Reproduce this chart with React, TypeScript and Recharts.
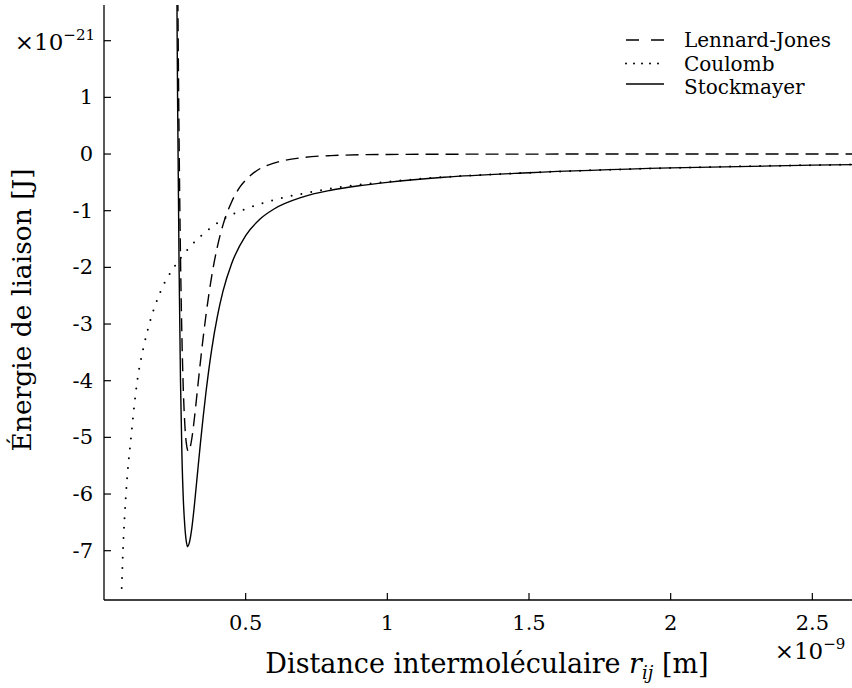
import React from 'react';
import { LineChart, Line, XAxis, YAxis, Legend } from 'recharts';

// distances in 1e-9 m, energies in 1e-21 J
const ljR = [0.255, 0.258, 0.26, 0.265, 0.27, 0.275, 0.28, 0.285, 0.29, 0.298, 0.31, 0.32, 0.33, 0.34, 0.35, 0.36, 0.38, 0.4, 0.42, 0.45, 0.48, 0.5, 0.55, 0.6, 0.7, 0.8, 1.0, 1.5, 2.0, 2.64];
const ljE = [7.34, 4.69, 3.2, 0.24, -1.82, -3.23, -4.17, -4.75, -5.08, -5.25, -5.02, -4.62, -4.15, -3.68, -3.24, -2.84, -2.16, -1.64, -1.25, -0.85, -0.58, -0.46, -0.26, -0.16, -0.063, -0.028, -0.007, -0.001, 0, 0];

const coulombR = [0.0625, 0.067, 0.0776, 0.0953, 0.1175, 0.14, 0.16, 0.2, 0.247, 0.289, 0.339, 0.427, 0.5, 0.6, 0.7, 0.8, 1.0, 1.25, 1.5, 2.0, 2.5, 2.64];
const coulombE = [-7.66, -7.0, -6.0, -5.0, -4.0, -3.4, -3.0, -2.42, -2.0, -1.72, -1.46, -1.134, -0.97, -0.81, -0.7, -0.61, -0.49, -0.39, -0.33, -0.245, -0.196, -0.186];

const stockR = [0.255, 0.258, 0.26, 0.265, 0.27, 0.275, 0.28, 0.285, 0.29, 0.295, 0.3, 0.31, 0.32, 0.33, 0.34, 0.35, 0.36, 0.38, 0.4, 0.42, 0.45, 0.5, 0.55, 0.6, 0.7, 0.8, 0.9, 1.0, 1.2, 1.5, 2.0, 2.5, 2.64];
const stockE = [5.42, 2.2, 0.8, -2.0, -4.0, -5.3, -6.1, -6.55, -6.82, -6.93, -6.88, -6.6, -6.15, -5.63, -5.12, -4.64, -4.2, -3.45, -2.87, -2.42, -1.94, -1.44, -1.15, -0.97, -0.76, -0.64, -0.56, -0.5, -0.41, -0.33, -0.245, -0.196, -0.186];

const X_TICKS = [0.5, 1, 1.5, 2, 2.5];
const Y_TICKS = [-7, -6, -5, -4, -3, -2, -1, 0, 1, 2];

const zip = (r: number[], e: number[]) => r.map((x, i) => ({ r: x, e: e[i] }));
const ljData = zip(ljR, ljE);
const coulombData = zip(coulombR, coulombE);
const stockData = zip(stockR, stockE);

const SERIF = '"DejaVu Serif", serif';
const INK = '#000';
const X_MARGIN = 16;
const Y_MARGIN = 11;

const SERIES = [
    { name: 'Lennard-Jones', data: ljData, dash: '13 7', sample: '13 12', width: 1.4, cap: 'butt' },
    { name: 'Coulomb', data: coulombData, dash: '0 10', sample: '0 8', width: 2, cap: 'round' },
    { name: 'Stockmayer', data: stockData, dash: undefined, sample: undefined, width: 1.4, cap: 'butt' },
];

function YTick(props: any) {
    const { x, y, payload } = props;
    const axisX = x + Y_MARGIN;
    const v = payload.value;
    return (
        <g>
            <line x1={axisX} x2={axisX + 7} y1={y} y2={y} stroke={INK} strokeWidth={1.2} />
            {v === 2 ? (
                <text x={x + 2} y={y + 9} textAnchor="end" fontFamily={SERIF} fontSize={23} fill={INK}>
                    ×10<tspan dy={-10} fontSize={15}>−21</tspan>
                </text>
            ) : (
                <text x={x} y={y + 7} textAnchor="end" fontFamily={SERIF} fontSize={21} fill={INK}>
                    {v}
                </text>
            )}
        </g>
    );
}

function XTick(props: any) {
    const { x, y, payload } = props;
    const axisY = y - X_MARGIN;
    const v = payload.value;
    return (
        <g>
            <line x1={x} x2={x} y1={axisY} y2={axisY - 7} stroke={INK} strokeWidth={1.2} />
            <text x={x} y={y + 14} textAnchor="middle" fontFamily={SERIF} fontSize={21} fill={INK}>
                {v}
            </text>
            {v === 2.5 && (
                <text x={x + 33} y={y + 43} textAnchor="end" fontFamily={SERIF} fontSize={23} fill={INK}>
                    ×10<tspan dy={-10} fontSize={15}>−9</tspan>
                </text>
            )}
        </g>
    );
}

function XLabel(props: any) {
    const { viewBox } = props;
    return (
        <text x={viewBox.x + viewBox.width / 2 + 9} y={viewBox.y + 73} textAnchor="middle" fontFamily={SERIF} fontSize={27} fill={INK}>
            Distance intermoléculaire <tspan fontStyle="italic">r</tspan>
            <tspan fontStyle="italic" fontSize={18} dy={6}>ij</tspan>
            <tspan dy={-6}> [m]</tspan>
        </text>
    );
}

function YLabel() {
    return (
        <text x={0} y={0} transform="translate(31 310) rotate(-90)" textAnchor="middle" fontFamily={SERIF} fontSize={26.5} fill={INK}>
            Énergie de liaison [J]
        </text>
    );
}

function LegendBox() {
    return (
        <svg width={240} height={84} style={{ display: 'block' }}>
            {SERIES.map((s, i) => (
                <g key={s.name}>
                    <line
                        x1={8}
                        x2={46}
                        y1={14 + i * 23.5 + (i === 2 ? -3 : 0)}
                        y2={14 + i * 23.5 + (i === 2 ? -3 : 0)}
                        stroke={INK}
                        strokeWidth={s.width}
                        strokeDasharray={s.sample}
                        strokeLinecap={s.cap as any}
                    />
                    <text x={66} y={14 + i * 23.5 + 7} fontFamily={SERIF} fontSize={20} fill={INK}>
                        {s.name}
                    </text>
                </g>
            ))}
        </svg>
    );
}

export default function App() {
    return (
        <div style={{ position: 'absolute', left: 0, top: 0, width: 852, height: 688, background: '#fff', overflow: 'hidden' }}>
            <LineChart width={852} height={688} margin={{ top: 5, right: 0, bottom: 0, left: 0 }}>
                <XAxis
                    type="number"
                    dataKey="r"
                    domain={[0, 2.64]}
                    ticks={X_TICKS}
                    allowDataOverflow
                    height={88}
                    tickSize={0}
                    tickMargin={X_MARGIN}
                    tick={<XTick />}
                    axisLine={{ stroke: INK, strokeWidth: 1.3 }}
                    label={{ content: XLabel }}
                />
                <YAxis
                    type="number"
                    domain={[-7.87, 2.63]}
                    ticks={Y_TICKS}
                    allowDataOverflow
                    width={104}
                    tickSize={0}
                    tickMargin={Y_MARGIN}
                    tick={<YTick />}
                    axisLine={{ stroke: INK, strokeWidth: 1.3 }}
                    label={{ content: YLabel }}
                />
                <Legend
                    layout="vertical"
                    verticalAlign="middle"
                    align="center"
                    wrapperStyle={{ top: 26, left: 618, width: 240 }}
                    content={() => <LegendBox />}
                />
                {SERIES.map((s) => (
                    <Line
                        key={s.name}
                        name={s.name}
                        data={s.data}
                        dataKey="e"
                        type="monotone"
                        stroke={INK}
                        strokeWidth={s.width}
                        strokeDasharray={s.dash}
                        strokeLinecap={s.cap as any}
                        dot={false}
                        activeDot={false}
                        isAnimationActive={false}
                    />
                ))}
            </LineChart>
        </div>
    );
}
